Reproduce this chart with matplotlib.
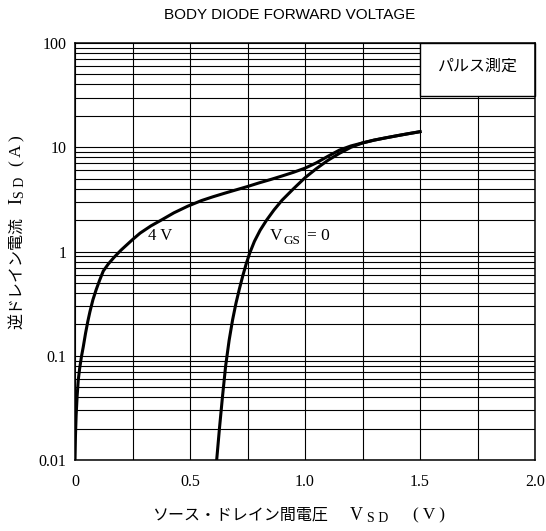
import matplotlib
matplotlib.use("Agg")
import matplotlib.pyplot as plt
from matplotlib.patches import Rectangle
from matplotlib.ticker import FixedLocator, NullFormatter, LogLocator

# ---- data ----
v_4v = [0.0, 0.002, 0.005, 0.009, 0.014, 0.02, 0.028, 0.036, 0.046, 0.056,
        0.065, 0.078, 0.092, 0.107, 0.123, 0.145, 0.17, 0.2, 0.25, 0.283,
        0.33, 0.38, 0.43, 0.49, 0.55, 0.6, 0.65, 0.7, 0.75, 0.8, 0.85, 0.9,
        0.95, 1.0, 1.05, 1.1, 1.15, 1.2, 1.25, 1.3, 1.35, 1.4, 1.45, 1.5]
i_4v = [0.01, 0.017, 0.027, 0.04, 0.058, 0.075, 0.098, 0.122, 0.165, 0.215,
        0.265, 0.345, 0.43, 0.53, 0.65, 0.76, 0.88, 1.03, 1.3, 1.5,
        1.76, 2.03, 2.35, 2.72, 3.08, 3.35, 3.62, 3.9, 4.2, 4.55, 4.9, 5.3,
        5.75, 6.3, 7.1, 8.2, 9.4, 10.3, 11.0, 11.7, 12.3, 12.9, 13.5, 14.1]

v_vgs0 = [0.616, 0.628, 0.641, 0.655, 0.67, 0.685, 0.70, 0.715, 0.73, 0.745,
          0.76, 0.78, 0.805, 0.833, 0.865, 0.9, 0.95, 1.0, 1.05, 1.1, 1.15,
          1.2, 1.25, 1.3, 1.35, 1.4, 1.45, 1.5]
i_vgs0 = [0.01, 0.02, 0.04, 0.08, 0.14, 0.22, 0.32, 0.44, 0.59, 0.77,
          0.97, 1.25, 1.6, 2.0, 2.5, 3.1, 4.0, 5.1, 6.25, 7.5, 8.75,
          10.0, 11.0, 11.7, 12.3, 12.9, 13.5, 14.1]

x_ticks = [0, 0.5, 1.0, 1.5, 2.0]
x_ticklabels = ["0", "0.5", "1.0", "1.5", "2.0"]
x_minor = [0.25, 0.75, 1.25, 1.75]
y_ticks = [0.01, 0.1, 1, 10, 100]
y_ticklabels = ["0.01", "0.1", "1", "10", "100"]

title = "BODY DIODE FORWARD VOLTAGE"
label_4v = "4 V"
box_text = "パルス測定"
box_range = (1.5, 2.0, 31, 100)

cjk = ['Noto Sans CJK JP', 'DejaVu Sans']
serif = 'Liberation Serif'

W, H = 546, 531
fig = plt.figure(figsize=(W / 100, H / 100), dpi=100)
ax = fig.add_axes([75 / W, 1 - 460 / H, 460 / W, 417 / H])

ax.set_yscale('log')
ax.set_xlim(0, 2.0)
ax.set_ylim(0.01, 100)

ax.xaxis.set_major_locator(FixedLocator(x_ticks))
ax.xaxis.set_minor_locator(FixedLocator(x_minor))
ax.set_xticklabels(x_ticklabels, fontfamily=serif, fontsize=11.5)
ax.yaxis.set_major_locator(FixedLocator(y_ticks))
ax.yaxis.set_minor_locator(LogLocator(base=10, subs=range(2, 10), numticks=20))
ax.yaxis.set_minor_formatter(NullFormatter())
ax.set_yticklabels(y_ticklabels, fontfamily=serif, fontsize=11.5)
ax.tick_params(axis='both', which='both', length=0)
ax.tick_params(axis='x', pad=10)
ax.tick_params(axis='y', pad=6)

ax.grid(True, which='both', color='black', lw=0.8)
ax.set_axisbelow(True)
for s in ax.spines.values():
    s.set_linewidth(1.1)
    s.set_color('black')

x0, x1, y0, y1 = box_range
ax.add_patch(Rectangle((x0, y0), x1 - x0, y1 - y0, facecolor='white',
                       edgecolor='black', lw=1.0, zorder=2, clip_on=False))
ax.text((x0 + x1) / 2, (y0 * y1) ** 0.5 * 1.08, box_text, ha='center', va='center',
        family=cjk, fontsize=11.5, zorder=3)

ax.plot(v_4v, i_4v, color='black', lw=2.2, zorder=4, solid_joinstyle='round')
ax.plot(v_vgs0, i_vgs0, color='black', lw=2.2, zorder=4, solid_joinstyle='round')

ax.text(0.317, 1.42, label_4v, ha='left', va='center', fontfamily=serif,
        fontsize=12, zorder=5)
# V_GS = 0 label composed of pieces
ax.annotate("V", xy=(0.846, 1.42), ha='left', va='center',
            fontfamily=serif, fontsize=12.5, zorder=5)
ax.annotate("GS", xy=(0.846, 1.42), xytext=(10, -4), textcoords='offset points',
            ha='left', va='center', fontfamily=serif, fontsize=9.5, zorder=5)
ax.annotate("= 0", xy=(0.846, 1.42), xytext=(27, 0), textcoords='offset points',
            ha='left', va='center', fontfamily=serif, fontsize=12.5, zorder=5)

fig.text(290 / W, 1 - 15 / H, title, ha='center', va='center',
         fontfamily='Liberation Sans', fontsize=11)

# x label
yl = 1 - 515 / H
fig.text(328 / W, yl, "ソース・ドレイン間電圧", ha='right', va='center',
         family=cjk, fontsize=11.5)
fig.text(350 / W, yl, "V", ha='left', va='center', fontfamily=serif, fontsize=13)
fig.text(367 / W, yl - 4 / H, "S D", ha='left', va='center', fontfamily=serif, fontsize=10)
fig.text(413 / W, yl, "( V )", ha='left', va='center', fontfamily=serif, fontsize=12.5)

# y label
xl = 17 / W
fig.text(xl, 1 - 273 / H, "逆ドレイン電流", rotation=90, ha='center', va='center',
         family=cjk, fontsize=11.5)
fig.text(xl, 1 - 201 / H, "I", rotation=90, ha='center', va='center',
         fontfamily=serif, fontsize=13)
fig.text(xl + 4 / W, 1 - 187 / H, "S D", rotation=90, ha='center', va='center',
         fontfamily=serif, fontsize=10)
fig.text(xl, 1 - 151 / H, "( A )", rotation=90, ha='center', va='center',
         fontfamily=serif, fontsize=12.5)

fig.savefig("out.png", dpi=100)
